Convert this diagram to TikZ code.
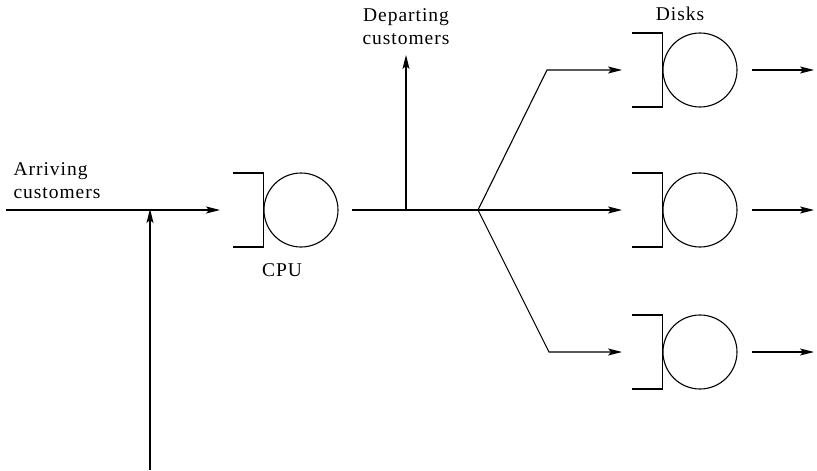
\documentclass[tikz,border=0pt]{standalone}
\usepackage{fontspec}
\setmainfont[LetterSpace=5]{Liberation Serif}
\usetikzlibrary{arrows.meta,calc}
\begin{document}
\begin{tikzpicture}[x=1pt,y=-1pt,line width=1.1pt,
  arr/.style={-{Stealth[length=14pt,width=7pt,inset=3pt]}},
  server/.style={circle,draw,minimum size=74pt,inner sep=0pt},
  lbl/.style={font=\fontsize{19.5}{23}\selectfont,inner sep=0pt,align=center}]
\useasboundingbox (0,0) rectangle (817,471);
% servers
\node[server] (cpu) at (301,210) {};
\node[server] (d1) at (700,70) {};
\node[server] (d2) at (700,210) {};
\node[server] (d3) at (700,352) {};
\foreach \n in {cpu,d1,d2,d3}
  \draw ($(\n.west)+(-30,-37)$) -| (\n.west) |- ($(\n.west)+(-30,37)$);
% coordinates
\coordinate (start) at (6,210);
\coordinate (merge) at (150,210);
\coordinate (fb) at (150,470);
\coordinate (cpuin) at (220,210);
\coordinate (cpuout) at (352,210);
\coordinate (dep) at (406,210);
\coordinate (deptop) at (406,55);
\coordinate (split) at (478,210);
\coordinate (b1) at (547,70);
\coordinate (b3) at (549,352);
\coordinate (in1) at (622,70);
\coordinate (in2) at (622,210);
\coordinate (in3) at (622,352);
\coordinate (o1) at (752,70);
\coordinate (o2) at (752,210);
\coordinate (o3) at (752,352);
\coordinate (e1) at (814,70);
\coordinate (e2) at (814,210);
\coordinate (e3) at (814,352);
% connectors
\draw[arr] (start) -- (cpuin);
\draw[arr,shorten >=-1pt] (fb) -- (merge);
\draw (cpuout) -- (split);
\draw[arr] (dep) -- (deptop);
\draw[arr] (split) -- (b1) -- (in1);
\draw[arr] (split) -- (in2);
\draw[arr] (split) -- (b3) -- (in3);
\draw[arr] (o1) -- (e1);
\draw[arr] (o2) -- (e2);
\draw[arr] (o3) -- (e3);
% labels
\node[lbl,anchor=base west,align=left] (arrl) at (13,198) {Arriving\\customers};
\node[lbl,anchor=base] (depl) at (406,44) {Departing\\customers};
\node[lbl,anchor=base] (diskl) at (680,20) {Disks};
\node[lbl,anchor=base] (cpul) at (282,276) {CPU};
\end{tikzpicture}
\end{document}
